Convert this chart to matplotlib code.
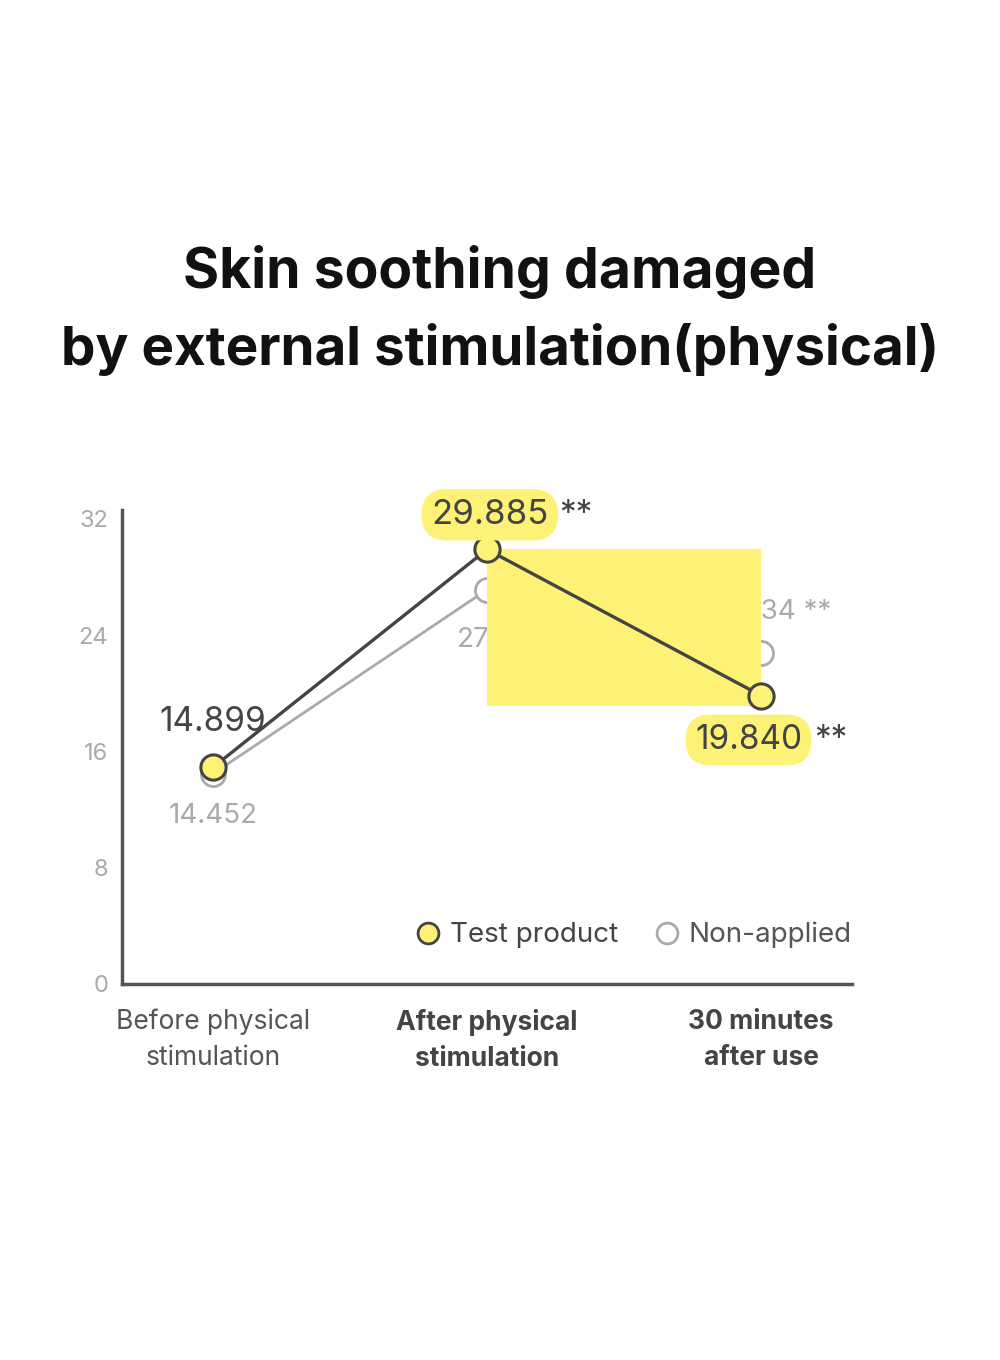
import matplotlib
matplotlib.use("Agg")
import matplotlib.pyplot as plt
from matplotlib.lines import Line2D
from matplotlib.patches import Rectangle

plt.rcParams["font.family"] = ["Inter", "DejaVu Sans"]

# ── data ────────────────────────────────────────────────────────────────────
categories = ["Before physical\nstimulation", "After physical\nstimulation", "30 minutes\nafter use"]
test_product = [14.899, 29.885, 19.840]
non_applied = [14.452, 27.120, 22.734]
test_labels = ["14.899", "29.885", "19.840"]
non_labels = ["14.452", "27.120", "22.734 **"]
y_ticks = [0, 8, 16, 24, 32]

YELLOW = "#fdf276"
DARK = "#444444"
GRAY = "#aaaaaa"

fig = plt.figure(figsize=(10, 13.6), dpi=100)
fig.text(0.5, 0.8, "Skin soothing damaged", ha="center", va="center",
         fontsize=39.8, fontweight="bold", color="#111111")
fig.text(0.5, 0.743, "by external stimulation(physical)", ha="center", va="center",
         fontsize=39.4, fontweight="bold", color="#111111")

ax = fig.add_axes([0.122, 0.2765, 0.730, 0.3485])
x = list(range(len(categories)))

# non-applied series (partly hidden behind the yellow block)
ax.plot(x, non_applied, color=GRAY, lw=2, zorder=2)
ax.scatter(x, non_applied, s=300, facecolor="white", edgecolor=GRAY, lw=2, zorder=3)

# test product series
ax.plot(x, test_product, color=DARK, lw=2.4, zorder=6)
ax.scatter(x, test_product, s=330, facecolor=YELLOW, edgecolor=DARK, lw=2.2, zorder=7)

# yellow block between the 2nd and 3rd point
ax.add_patch(Rectangle((x[1], test_product[2] - 0.7), x[2] - x[1],
                       test_product[1] - test_product[2] + 0.7,
                       facecolor=YELLOW, edgecolor="none", zorder=5))

# value labels: non-applied
ax.annotate(non_labels[0], (x[0], non_applied[0]), xytext=(0, -30), textcoords="offset points",
            ha="center", va="center", fontsize=20, color=GRAY, zorder=4)
ax.annotate(non_labels[1], (x[1], non_applied[1]), xytext=(-22, -36), textcoords="offset points",
            ha="left", va="center", fontsize=20, color=GRAY, zorder=4)
ax.annotate(non_labels[2], (x[2], non_applied[2]), xytext=(51, 30), textcoords="offset points",
            ha="right", va="center", fontsize=20, color=GRAY, zorder=4)

# value labels: test product
ax.annotate(test_labels[0], (x[0], test_product[0]), xytext=(0, 33), textcoords="offset points",
            ha="center", va="center", fontsize=24, color=DARK, zorder=8)
box = dict(boxstyle="round,pad=0.28,rounding_size=0.75", facecolor=YELLOW, edgecolor="none")
ax.annotate(test_labels[1], (x[1], test_product[1]), xytext=(2, 25), textcoords="offset points",
            ha="center", va="center", fontsize=25, color=DARK, bbox=box, zorder=8)
ax.annotate("**", (x[1], test_product[1]), xytext=(52, 25), textcoords="offset points",
            ha="left", va="center", fontsize=24, color=DARK, zorder=8)
ax.annotate(test_labels[2], (x[2], test_product[2]), xytext=(-9, -32), textcoords="offset points",
            ha="center", va="center", fontsize=24, color=DARK, bbox=box, zorder=8)
ax.annotate("**", (x[2], test_product[2]), xytext=(38, -32), textcoords="offset points",
            ha="left", va="center", fontsize=24, color=DARK, zorder=8)

# axes styling
ax.set_xlim(-0.332, 2.332)
ax.set_ylim(0, 32.6)
ax.set_yticks(y_ticks)
ax.set_yticklabels([str(t) for t in y_ticks])
ax.set_xticks(x)
ax.set_xticklabels(categories, fontsize=19, linespacing=1.5)
for lbl, w, c in zip(ax.get_xticklabels(), ["normal", "bold", "bold"], ["#555555", DARK, DARK]):
    lbl.set_fontweight(w)
    lbl.set_color(c)
ax.tick_params(axis="y", length=0, pad=10, labelsize=17, labelcolor=GRAY)
ax.tick_params(axis="x", length=0, pad=18)
for side in ["top", "right"]:
    ax.spines[side].set_visible(False)
for side in ["left", "bottom"]:
    ax.spines[side].set_color("#555555")
    ax.spines[side].set_linewidth(2.5)

handles = [
    Line2D([], [], ls="none", marker="o", ms=15, mfc=YELLOW, mec=DARK, mew=2),
    Line2D([], [], ls="none", marker="o", ms=15, mfc="white", mec=GRAY, mew=2),
]
leg = ax.legend(handles, ["Test product", "Non-applied"], loc="center right",
                bbox_to_anchor=(1.0, 0.103), ncol=2, frameon=False, fontsize=20,
                handletextpad=0.2, columnspacing=1.15, borderaxespad=0, borderpad=0,
                handlelength=1.2)
for t, c in zip(leg.get_texts(), [DARK, "#555555"]):
    t.set_color(c)

fig.savefig("out.png", dpi=100, facecolor="white")
